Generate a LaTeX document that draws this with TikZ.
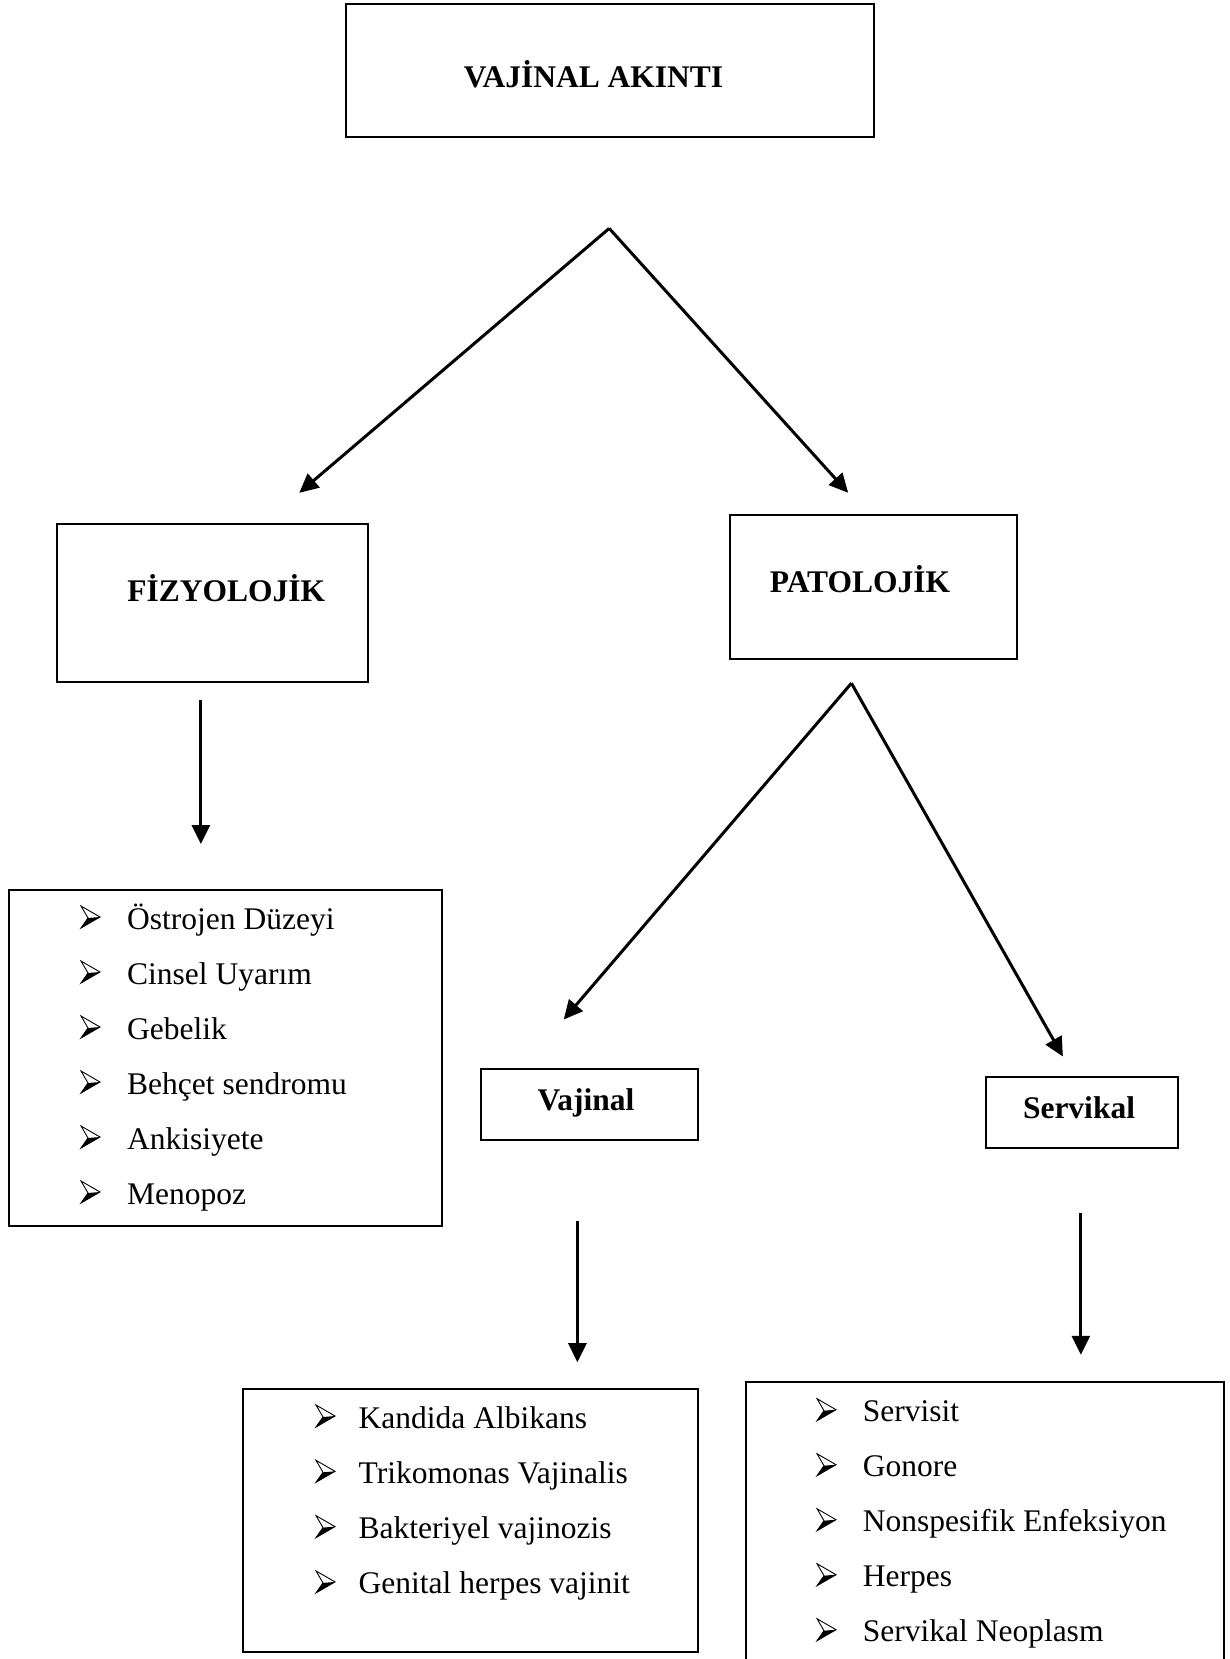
\documentclass[tikz,border=0pt]{standalone}
\usepackage{fontspec}
\setmainfont{Liberation Serif}
\usetikzlibrary{arrows.meta}
\begin{document}
\begin{tikzpicture}[x=1pt,y=-1pt,
  box/.style={draw,line width=2pt,inner sep=0pt,outer sep=0pt,anchor=north west,rectangle},
  head/.style={font=\fontsize{31.5}{36}\selectfont\bfseries,anchor=base,inner sep=0pt},
  item/.style={font=\fontsize{31.5}{36}\selectfont,anchor=base west,inner sep=0pt},
  conn/.style={line width=3pt,-{Triangle[length=19pt,width=18pt]}},
  bullet/.pic={
    \draw[line width=0.9pt,line join=miter] (0,-23) -- (19,-12) -- (0,-1) -- (7,-11) -- cycle;
    \fill (7,-11) -- (19,-12) -- (0,-1) -- cycle;
  }]
\useasboundingbox[fill=white] (0,0) rectangle (1230,1659);

% boxes
\node[box,minimum width=527.8pt,minimum height=133.3pt] (top) at (345.8,4.2) {};
\node[box,minimum width=310.9pt,minimum height=158.7pt] (fiz) at (57.1,523.5) {};
\node[box,minimum width=287.7pt,minimum height=143.9pt] (pat) at (729.7,515.0) {};
\node[box,minimum width=433pt,minimum height=336pt] (fizlist) at (9.3,890) {};
\node[box,minimum width=216.8pt,minimum height=70.9pt] (vaj) at (481.2,1069.2) {};
\node[box,minimum width=192.4pt,minimum height=70.9pt] (ser) at (985.7,1076.6) {};
\node[box,minimum width=454.8pt,minimum height=263.4pt] (vajlist) at (243.2,1388.6) {};
\node[box,minimum width=478pt,minimum height=330pt] (serlist) at (746,1381.7) {};

% headings
\node[head] (tTop) at (593.5,87.5) {VAJİNAL AKINTI};
\node[head] (tFiz) at (226.3,601) {FİZYOLOJİK};
\node[head] (tPat) at (860,592) {PATOLOJİK};
\node[head] (tVaj) at (586,1110.5) {Vajinal};
\node[head] (tSer) at (1079,1118) {Servikal};

% connectors
\coordinate (a1) at (609.2,228.4);
\coordinate (e1) at (299.3,492.8);
\coordinate (e2) at (848.2,492.8);
\draw[conn] (a1) -- (e1);
\draw[conn] (a1) -- (e2);
\coordinate (f1) at (200.9,700.1);
\coordinate (f2) at (200.9,844);
\draw[conn] (f1) -- (f2);
\coordinate (a2) at (851.4,683.2);
\coordinate (e3) at (563.7,1019.5);
\coordinate (e4) at (1062.9,1056.5);
\draw[conn] (a2) -- (e3);
\draw[conn] (a2) -- (e4);
\coordinate (v1) at (577.4,1220.5);
\coordinate (v2) at (577.4,1362.2);
\draw[conn] (v1) -- (v2);
\coordinate (s1) at (1080.9,1213.1);
\coordinate (s2) at (1080.9,1354.8);
\draw[conn] (s1) -- (s2);

% lists
\foreach \t [count=\i] in {Östrojen Düzeyi,Cinsel Uyarım,Gebelik,Behçet sendromu,Ankisiyete,Menopoz}{
  \pic (fb\i) at (81,{929+55*(\i-1)}) {bullet};
  \node[item] (fi\i) at (127,{929+55*(\i-1)}) {\t};
}
\foreach \t [count=\i] in {Kandida Albikans,Trikomonas Vajinalis,Bakteriyel vajinozis,Genital herpes vajinit}{
  \pic (vb\i) at (316,{1428+55.3*(\i-1)}) {bullet};
  \node[item] (vi\i) at (358.5,{1428+55.3*(\i-1)}) {\t};
}
\foreach \t [count=\i] in {Servisit,Gonore,Nonspesifik Enfeksiyon,Herpes,Servikal Neoplasm}{
  \pic (sb\i) at (817,{1421.7+55*(\i-1)}) {bullet};
  \node[item] (si\i) at (862.7,{1421.7+55*(\i-1)}) {\t};
}
\end{tikzpicture}
\end{document}
